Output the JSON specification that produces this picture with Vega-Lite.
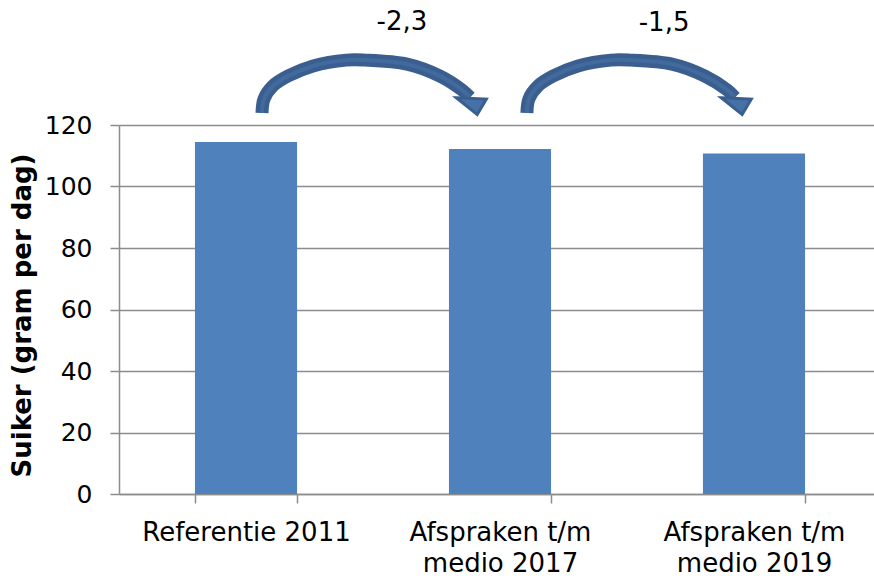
{
  "$schema": "https://vega.github.io/schema/vega-lite/v6.json",
  "width": 755,
  "height": 369,
  "autosize": {"type": "none"},
  "padding": {"left": 119, "top": 125, "right": 0, "bottom": 82},
  "background": "white",
  "config": {
    "view": {"stroke": null},
    "font": "DejaVu Sans",
    "axis": {"labelColor": "#000000", "titleColor": "#000000"}
  },
  "datasets": {
    "staven": [
      {"categorie": "Referentie 2011", "suiker": 114.5},
      {"categorie": "Afspraken t/m medio 2017", "suiker": 112.2},
      {"categorie": "Afspraken t/m medio 2019", "suiker": 110.7}
    ],
    "pijlen": [
      {"pijl": "2011-2017", "x": 0.563, "y": 123.9},
      {"pijl": "2011-2017", "x": 0.571, "y": 128.5},
      {"pijl": "2011-2017", "x": 0.606, "y": 132.7},
      {"pijl": "2011-2017", "x": 0.665, "y": 135.9},
      {"pijl": "2011-2017", "x": 0.764, "y": 139.2},
      {"pijl": "2011-2017", "x": 0.894, "y": 141.1},
      {"pijl": "2011-2017", "x": 0.969, "y": 141.1},
      {"pijl": "2011-2017", "x": 1.134, "y": 139.8},
      {"pijl": "2011-2017", "x": 1.264, "y": 135.9},
      {"pijl": "2011-2017", "x": 1.350, "y": 131.4},
      {"pijl": "2011-2017", "x": 1.382, "y": 129.0},
      {"pijl": "2017-2019", "x": 1.606, "y": 123.9},
      {"pijl": "2017-2019", "x": 1.614, "y": 128.5},
      {"pijl": "2017-2019", "x": 1.650, "y": 132.7},
      {"pijl": "2017-2019", "x": 1.709, "y": 135.9},
      {"pijl": "2017-2019", "x": 1.807, "y": 139.2},
      {"pijl": "2017-2019", "x": 1.937, "y": 141.1},
      {"pijl": "2017-2019", "x": 2.012, "y": 141.1},
      {"pijl": "2017-2019", "x": 2.177, "y": 139.8},
      {"pijl": "2017-2019", "x": 2.307, "y": 135.9},
      {"pijl": "2017-2019", "x": 2.394, "y": 131.4},
      {"pijl": "2017-2019", "x": 2.425, "y": 129.0}
    ],
    "punten": [
      {"pijl": "2011-2017", "x": 1.394, "y": 126.8},
      {"pijl": "2017-2019", "x": 2.437, "y": 126.8}
    ],
    "labels": [
      {"tekst": "-2,3", "x": 1.114, "y": 150.9},
      {"tekst": "-1,5", "x": 2.146, "y": 150.6}
    ]
  },
  "layer": [
    {
      "data": {"name": "staven"},
      "mark": {"type": "bar", "color": "#4F81BD"},
      "encoding": {
        "x": {
          "field": "categorie",
          "type": "nominal",
          "sort": null,
          "scale": {"range": [0, 762], "paddingInner": 0.598, "paddingOuter": 0.299},
          "axis": {
            "title": null,
            "labelAngle": 0,
            "labelFontSize": 26,
            "labelLineHeight": 31,
            "labelBaseline": "top",
            "labelPadding": 16,
            "labelLimit": 0,
            "labelExpr": "datum.label == 'Referentie 2011' ? datum.label : [slice(datum.label, 0, 13), slice(datum.label, 14)]",
            "tickBand": "extent",
            "tickSize": 9,
            "tickColor": "#8C8C8C",
            "tickWidth": 1.5,
            "domainColor": "#8C8C8C",
            "domainWidth": 1.5,
            "labelOverlap": false
          }
        },
        "y": {
          "field": "suiker",
          "type": "quantitative",
          "scale": {"domain": [0, 120], "nice": false},
          "axis": {
            "title": "Suiker (gram per dag)",
            "titleFontSize": 26,
            "titleFontWeight": "bold",
            "titleX": -97,
            "titleY": 190,
            "titleAngle": -90,
            "titleAlign": "center",
            "titleBaseline": "middle",
            "values": [0, 20, 40, 60, 80, 100, 120],
            "labelFontSize": 25,
            "labelPadding": 18,
            "tickSize": 9,
            "tickColor": "#8C8C8C",
            "tickWidth": 1.5,
            "domainColor": "#8C8C8C",
            "domainWidth": 1.5,
            "grid": true,
            "gridColor": "#8C8C8C",
            "gridWidth": 1.5
          }
        }
      }
    },
    {
      "data": {"name": "pijlen"},
      "mark": {"type": "line", "color": "#3A5F8F", "strokeWidth": 13, "strokeCap": "butt", "interpolate": "catmull-rom"},
      "encoding": {
        "x": {"field": "x", "type": "quantitative", "scale": {"domain": [0, 3], "range": [0, 762], "nice": false}, "axis": null},
        "y": {"field": "y", "type": "quantitative", "scale": {"domain": [0, 120], "nice": false}, "axis": null},
        "detail": {"field": "pijl"}
      }
    },
    {
      "data": {"name": "pijlen"},
      "mark": {"type": "line", "color": "#426A9E", "strokeWidth": 4, "strokeCap": "butt", "interpolate": "catmull-rom"},
      "encoding": {
        "x": {"field": "x", "type": "quantitative", "scale": {"domain": [0, 3], "range": [0, 762], "nice": false}, "axis": null},
        "y": {"field": "y", "type": "quantitative", "scale": {"domain": [0, 120], "nice": false}, "axis": null},
        "detail": {"field": "pijl"}
      }
    },
    {
      "data": {"name": "punten"},
      "mark": {
        "type": "point",
        "filled": true,
        "shape": "M-1,-0.375L0.8,-0.3L0.25,0.625Z",
        "size": 1100,
        "fill": "#4472A8",
        "stroke": "#3A5F8F",
        "strokeWidth": 3,
        "opacity": 1
      },
      "encoding": {
        "x": {"field": "x", "type": "quantitative", "scale": {"domain": [0, 3], "range": [0, 762], "nice": false}, "axis": null},
        "y": {"field": "y", "type": "quantitative", "scale": {"domain": [0, 120], "nice": false}, "axis": null}
      }
    },
    {
      "data": {"name": "labels"},
      "mark": {"type": "text", "fontSize": 26, "color": "#000000", "align": "center", "baseline": "alphabetic"},
      "encoding": {
        "x": {"field": "x", "type": "quantitative", "scale": {"domain": [0, 3], "range": [0, 762], "nice": false}, "axis": null},
        "y": {"field": "y", "type": "quantitative", "scale": {"domain": [0, 120], "nice": false}, "axis": null},
        "text": {"field": "tekst"}
      }
    }
  ],
  "resolve": {"scale": {"x": "independent", "y": "independent"}}
}
